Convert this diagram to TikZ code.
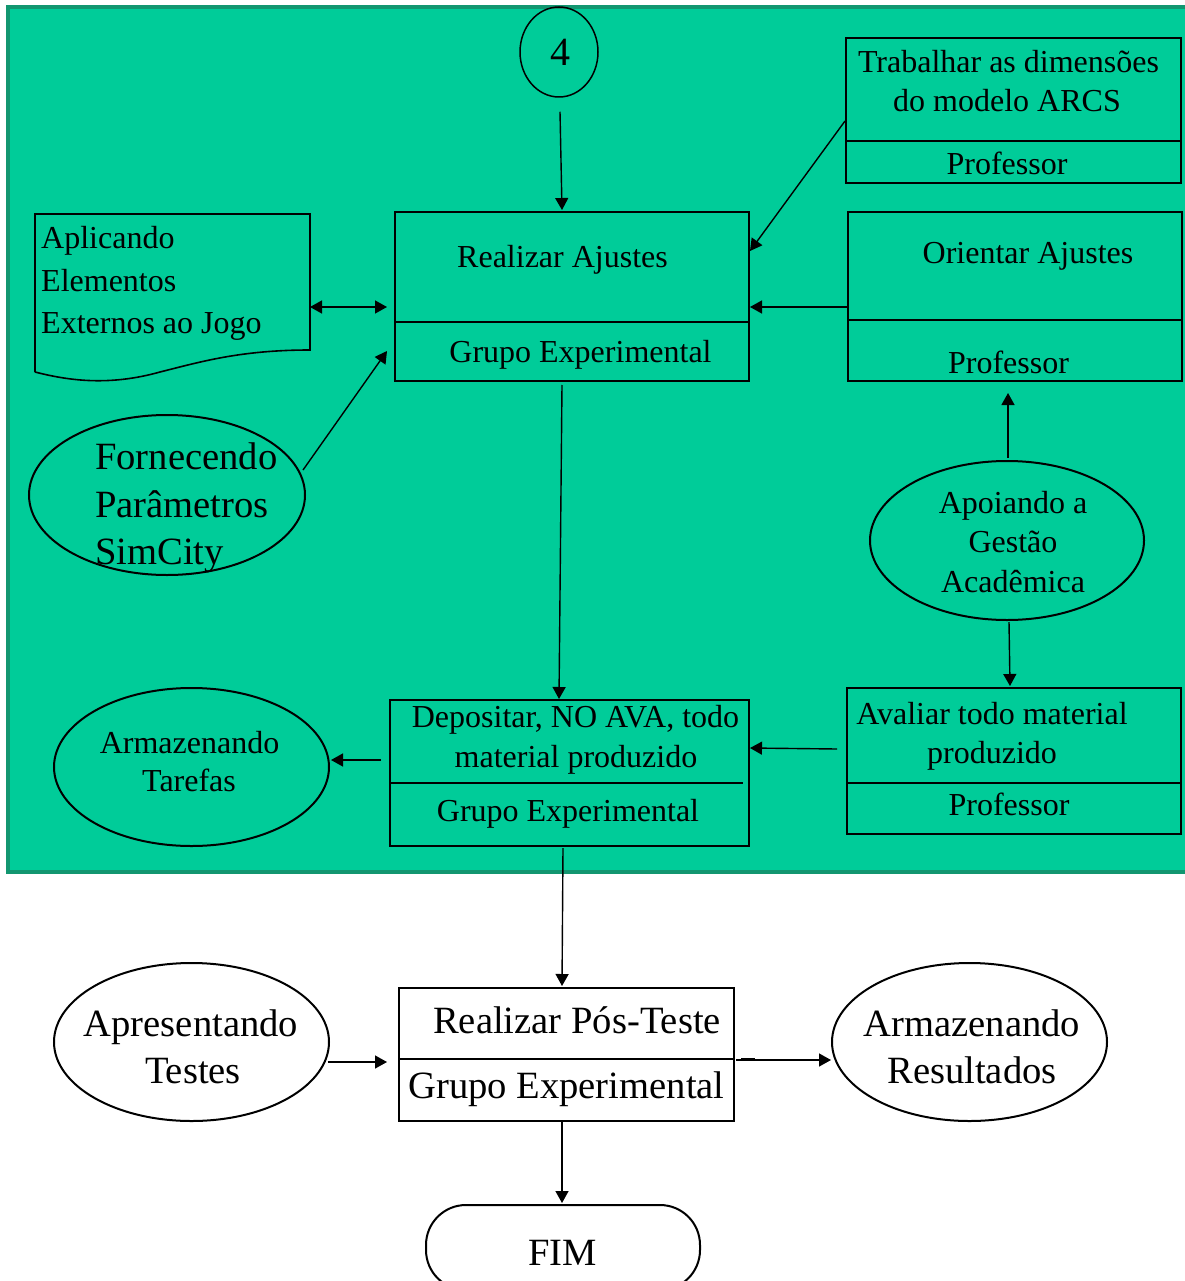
\documentclass[tikz,border=0pt]{standalone}
\usepackage{fontspec}
\setmainfont{Liberation Serif}
\usetikzlibrary{arrows.meta,shapes.geometric,calc}
\definecolor{panel}{RGB}{0,204,153}
\definecolor{panelrim}{RGB}{18,150,112}
\newcommand\fsm{\fontsize{32}{39}\selectfont}
\newcommand\fbig{\fontsize{38.6}{48}\selectfont}
\tikzset{
  boxshape/.style={draw, line width=2pt, inner sep=0pt},
  ellshape/.style={draw, ellipse, line width=2pt, inner sep=0pt},
  divider/.style={line width=1.6pt},
  arr/.style={line width=1.4pt, -{Triangle[length=12pt,width=13pt]}},
  biarr/.style={line width=1.4pt, {Triangle[length=12pt,width=13pt]}-{Triangle[length=12pt,width=13pt]}},
  tsm/.style={inner sep=0pt, anchor=base, font=\fsm},
  tsml/.style={inner sep=0pt, anchor=base west, font=\fsm},
  tbig/.style={inner sep=0pt, anchor=base, font=\fbig},
  tbigl/.style={inner sep=0pt, anchor=base west, font=\fbig},
}
\begin{document}
\begin{tikzpicture}[x=1pt, y=-1pt]
\useasboundingbox (0,0) rectangle (1184,1281);
\fill[white] (0,0) rectangle (1184,1281);

% green panel holding the adjustment stage
\draw[fill=panel, draw=panelrim, line width=3.5pt] (8,7) rectangle (1210,872);

% connector "4"
\node[ellshape, line width=1.5pt, minimum width=78pt, minimum height=90pt] (c4) at (559,52) {};
\node[inner sep=0pt, anchor=base, font=\fontsize{40}{48}\selectfont] (c4t) at (560,66) {4};

% Realizar Ajustes
\node[boxshape, minimum width=354pt, minimum height=169pt] (realiz) at (572,296.5) {};
\draw[divider] (395,322) -- (749,322);
\node[tsm] (realizT) at (562.5,267) {Realizar Ajustes};
\node[tsm] (realizR) at (580.5,362) {Grupo Experimental};

% Trabalhar as dimensoes
\node[boxshape, minimum width=335pt, minimum height=145pt] (trab) at (1013.5,110.5) {};
\draw[divider] (846,141) -- (1181,141);
\node[tsm] (trabT1) at (1008.5,73) {Trabalhar as dimensões};
\node[tsm] (trabT2) at (1007,112) {do modelo ARCS};
\node[tsm] (trabR) at (1007,175) {Professor};

% Orientar Ajustes
\node[boxshape, minimum width=334pt, minimum height=169pt] (orient) at (1015,296.5) {};
\draw[divider] (848,320) -- (1182,320);
\node[tsm] (orientT) at (1028,263) {Orientar Ajustes};
\node[tsm] (orientR) at (1008.5,373) {Professor};

% document: Aplicando Elementos Externos ao Jogo
\draw[line width=1.6pt] (35,372) -- (35,214) -- (310,214) -- (310,350)
  .. controls (240,350) and (200,362) .. (160,372)
  .. controls (110,386) and (70,381) .. (35,372);
\coordinate (aplicE) at (310,307);
\node[tsml] (aplicT1) at (41,248) {Aplicando};
\node[tsml] (aplicT2) at (41,291) {Elementos};
\node[tsml] (aplicT3) at (41,333) {Externos ao Jogo};

% Fornecendo Parametros SimCity
\node[ellshape, minimum width=276pt, minimum height=160pt] (forn) at (167,495) {};
\node[tbigl] (fornT1) at (95,469) {Fornecendo};
\node[tbigl] (fornT2) at (95,517) {Parâmetros};
\node[tbigl] (fornT3) at (95,564) {SimCity};

% Apoiando a Gestao Academica
\node[ellshape, minimum width=274pt, minimum height=159pt] (apoi) at (1007,540.5) {};
\node[tsm] (apoiT1) at (1013,513) {Apoiando a};
\node[tsm] (apoiT2) at (1013,552) {Gestão};
\node[tsm] (apoiT3) at (1013,592) {Acadêmica};

% Depositar no AVA
\node[boxshape, minimum width=359pt, minimum height=146pt] (depos) at (569.5,773) {};
\draw[divider] (390,783) -- (743,783);
\node[tsm] (deposT1) at (575.5,727) {Depositar, NO AVA, todo};
\node[tsm] (deposT2) at (576,767) {material produzido};
\node[tsm] (deposR) at (568,821) {Grupo Experimental};

% Armazenando Tarefas
\node[ellshape, minimum width=275pt, minimum height=158pt] (arm1) at (191.5,767) {};
\node[tsm] (arm1T1) at (189.5,753) {Armazenando};
\node[tsm] (arm1T2) at (189,791) {Tarefas};

% Avaliar todo material produzido
\node[boxshape, minimum width=334pt, minimum height=146pt] (aval) at (1014,761) {};
\draw[divider] (847,783) -- (1181,783);
\node[tsm] (avalT1) at (992,724) {Avaliar todo material};
\node[tsm] (avalT2) at (992,763) {produzido};
\node[tsm] (avalR) at (1009,815) {Professor};

% Realizar Pos-Teste
\node[boxshape, fill=white, minimum width=335pt, minimum height=133pt] (pos) at (566.5,1054.5) {};
\draw[divider] (399,1059) -- (734,1059);
\node[tbig] (posT) at (577,1033) {Realizar Pós-Teste};
\node[tbig] (posR) at (566.5,1098) {Grupo Experimental};

% Apresentando Testes
\node[ellshape, minimum width=275pt, minimum height=158pt] (apres) at (191.5,1042) {};
\node[tbig] (apresT1) at (191,1036) {Apresentando};
\node[tbig] (apresT2) at (193,1083) {Testes};

% Armazenando Resultados
\node[ellshape, minimum width=275pt, minimum height=158pt] (armR) at (969.5,1042) {};
\node[tbig] (armRT1) at (972,1036) {Armazenando};
\node[tbig] (armRT2) at (972,1083) {Resultados};

% FIM terminator
\node[draw, line width=2pt, rounded corners=40pt, minimum width=274pt, minimum height=85pt, inner sep=0pt] (fim) at (563,1247.5) {};
\node[tbig] (fimT) at (562.5,1265) {FIM};

% connectors
\draw[arr] ($(c4.south)+(1,14)$) -- ($(realiz.north)+(-10,-1)$);
\draw[arr] ($(trab.west)+(0,10.5)$) -- ($(realiz.east)+(0,-45.5)$);
\draw[arr] ($(orient.west)+(0,10.5)$) -- ($(realiz.east)+(0,10.5)$);
\draw[biarr] (aplicE) -- ($(realiz.west)+(-7,10.5)$);
\draw[arr] ($(forn.center)+(136,-25)$) -- ($(realiz.west)+(-7,54.5)$);
\draw[arr] ($(realiz.south)+(-10,3)$) -- ($(depos.north)+(-10.5,0)$);
\draw[arr] ($(depos.west)+(-8,-13)$) -- ($(arm1.east)+(1,-7)$);
\draw[arr] ($(apoi.north)+(1,-2.5)$) -- ($(orient.south)+(-7,11)$);
\draw[arr] ($(apoi.south)+(2,1)$) -- ($(aval.north)+(-4,-1)$);
\draw[arr] ($(aval.west)+(-9,-12)$) -- ($(depos.east)+(0,-25)$);
\draw[arr] ($(depos.south)+(-6.5,1)$) -- ($(pos.north)+(-4.5,-1)$);
\draw[arr] ($(apres.center)+(136,20)$) -- ($(pos.west)+(-11,7.5)$);
\draw[arr] ($(pos.east)+(1,5.5)$) -- ($(armR.west)+(0,18)$);
\draw[line width=1.3pt] ($(pos.east)+(6,4)$) -- ($(pos.east)+(20,4)$);
\draw[arr] ($(pos.south)+(-4.5,0)$) -- ($(fim.north)+(-1,-1)$);
\end{tikzpicture}
\end{document}
